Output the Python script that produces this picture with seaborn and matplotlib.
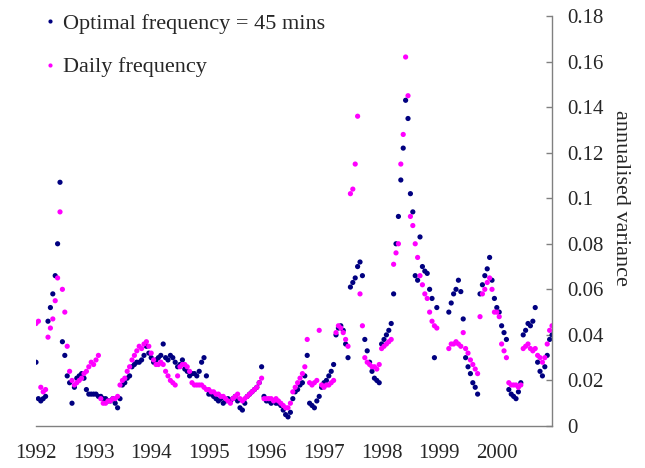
import numpy as np
import pandas as pd
import matplotlib
matplotlib.use("Agg")
import matplotlib.pyplot as plt
import seaborn as sns
from matplotlib.lines import Line2D

# ------------------------
# data (half-monthly)
# ------------------------
year_labels = [1992, 1993, 1994, 1995, 1996, 1997, 1998, 1999, 2000]
nan = np.nan

optimal_var = [
    # 1992
    0.028, 0.012, 0.011, 0.012, 0.013, 0.046, 0.052, 0.058, 0.066, 0.080, 0.107, 0.037,
    0.031, 0.022, 0.019, 0.010, 0.017, 0.021, 0.022, 0.023, 0.021, 0.016, 0.014, 0.014,
    # 1993
    0.014, 0.014, 0.013, 0.013, 0.012, 0.012, 0.011, 0.011, 0.012, 0.010, 0.008, 0.012,
    0.018, 0.019, 0.021, 0.022, 0.026, 0.027, 0.028, 0.028, 0.029, 0.031, 0.035, 0.032,
    # 1994
    0.030, 0.028, 0.029, 0.030, 0.031, 0.036, 0.030, 0.029, 0.031, 0.030, 0.028, 0.026,
    0.027, 0.029, 0.025, 0.024, 0.022, 0.023, 0.023, 0.022, 0.024, 0.028, 0.030, 0.022,
    # 1995
    0.014, 0.014, 0.013, 0.012, 0.011, 0.012, 0.010, 0.011, 0.012, 0.011, 0.012, 0.013,
    0.011, 0.008, 0.007, 0.010, 0.013, 0.014, 0.015, 0.016, 0.017, 0.019, 0.026, 0.013,
    # 1996
    0.011, 0.011, 0.010, 0.011, 0.010, 0.010, 0.009, 0.007, 0.005, 0.004, 0.006, 0.012,
    0.015, 0.016, 0.018, 0.019, 0.022, 0.031, 0.010, 0.009, 0.008, 0.011, 0.013, 0.017,
    # 1997
    0.019, 0.020, 0.022, 0.024, 0.027, 0.040, 0.043, 0.044, 0.042, 0.036, 0.030, 0.061,
    0.063, 0.065, 0.070, 0.072, 0.066, 0.038, 0.033, 0.028, 0.024, 0.021, 0.020, 0.019,
    # 1998
    0.036, 0.038, 0.040, 0.042, 0.045, 0.058, 0.080, 0.092, 0.108, 0.122, 0.143, 0.135,
    0.102, 0.094, 0.066, 0.064, 0.083, 0.070, 0.068, 0.067, 0.060, 0.056, 0.030, 0.052,
    # 1999
    nan, nan, nan, nan, 0.050, 0.054, 0.058, 0.060, 0.064, 0.059, 0.047, 0.030,
    0.026, 0.023, 0.019, 0.017, 0.014, 0.058, 0.062, 0.066, 0.069, 0.074, 0.064, 0.056,
    # 2000
    0.052, 0.050, 0.044, 0.041, 0.038, 0.016, 0.014, 0.013, 0.012, 0.015, 0.019, 0.040,
    0.042, 0.045, 0.044, 0.046, 0.052, 0.028, 0.024, 0.022, 0.026, 0.031, 0.038, 0.040,
]

daily_var = [
    # 1992
    0.045, 0.046, 0.017, 0.015, 0.016, 0.039, 0.043, 0.047, 0.055, 0.065, 0.094, 0.060,
    0.050, 0.035, 0.024, 0.020, 0.018, 0.019, 0.020, 0.021, 0.023, 0.024, 0.026, 0.028,
    # 1993
    0.027, 0.029, 0.031, 0.012, 0.010, 0.010, 0.011, 0.011, 0.012, 0.012, 0.013, 0.018,
    0.020, 0.021, 0.024, 0.026, 0.029, 0.031, 0.033, 0.035, 0.034, 0.036, 0.037, 0.035,
    # 1994
    0.032, 0.029, 0.027, 0.027, 0.028, 0.027, 0.024, 0.022, 0.020, 0.019, 0.018, 0.022,
    0.026, 0.027, 0.027, 0.026, 0.024, 0.019, 0.018, 0.018, 0.018, 0.018, 0.017, 0.016,
    # 1995
    0.016, 0.015, 0.015, 0.014, 0.014, 0.013, 0.013, 0.012, 0.011, 0.010, 0.012, 0.013,
    0.014, 0.012, 0.011, 0.012, 0.013, 0.014, 0.015, 0.016, 0.017, 0.019, 0.021, 0.012,
    # 1996
    0.012, 0.012, 0.012, 0.011, 0.012, 0.011, 0.010, 0.009, 0.008, 0.008, 0.010, 0.015,
    0.017, 0.019, 0.021, 0.023, 0.026, 0.038, 0.019, 0.018, 0.019, 0.020, 0.042, 0.018,
    # 1997
    0.017, 0.018, 0.018, 0.019, 0.020, 0.041, 0.044, 0.043, 0.041, 0.038, 0.035, 0.102,
    0.104, 0.115, 0.136, 0.058, 0.044, 0.030, 0.028, 0.027, 0.026, 0.026, 0.025, 0.027,
    # 1998
    0.034, 0.035, 0.036, 0.037, 0.038, 0.071, 0.076, 0.080, 0.115, 0.128, 0.162, 0.145,
    0.092, 0.088, 0.080, 0.074, 0.066, 0.062, 0.058, 0.056, 0.050, 0.046, 0.044, 0.043,
    # 1999
    nan, nan, nan, nan, 0.034, 0.036, 0.036, 0.037, 0.036, 0.035, 0.041, 0.034,
    0.032, 0.029, 0.027, 0.025, 0.023, 0.048, 0.058, 0.060, 0.063, 0.065, 0.060, 0.050,
    # 2000
    0.050, 0.048, 0.036, 0.033, 0.030, 0.019, 0.018, 0.018, 0.018, 0.017, 0.018, 0.034,
    0.035, 0.036, 0.034, 0.033, 0.034, 0.031, 0.030, 0.028, 0.030, 0.036, 0.042, 0.044,
]

# time axis: 24 samples per year starting Jan 1992
dates = 1992 + np.arange(len(optimal_var)) / 24.0

series_names = ["Optimal frequency = 45 mins", "Daily frequency"]
colors = {series_names[0]: "#000080", series_names[1]: "#FF00FF"}

df = pd.concat([
    pd.DataFrame({"date": dates, "var": optimal_var, "series": series_names[0]}),
    pd.DataFrame({"date": dates, "var": daily_var, "series": series_names[1]}),
]).dropna()

# ------------------------
# plot
# ------------------------
sns.set_style("white")
plt.rcParams["font.family"] = ["Liberation Serif", "DejaVu Serif"]

fig = plt.figure(figsize=(6.45, 4.68), dpi=100)
ax = fig.add_axes([36 / 645, 1 - 426 / 468, (552 - 36) / 645, (426 - 16) / 468])

sns.scatterplot(data=df, x="date", y="var", hue="series", palette=colors,
                s=14, linewidth=0, legend=False, ax=ax)

ax.set_xlim(1992, 2000.958)
ax.set_ylim(0, 0.18)

ax.set_xticks(year_labels)
ax.set_xticklabels([str(y) for y in year_labels])
yt = np.round(np.arange(0, 0.181, 0.02), 2)
ax.set_yticks(yt)
ax.set_yticklabels(["0" if v == 0 else f"{v:g}" for v in yt])

ax.yaxis.tick_right()
for side in ["top", "left"]:
    ax.spines[side].set_visible(False)
for side in ["bottom", "right"]:
    ax.spines[side].set_color("#808080")
    ax.spines[side].set_linewidth(1.0)

ax.tick_params(axis="x", direction="out", length=5, width=1, color="#808080",
               labelsize=15, pad=8)
ax.tick_params(axis="y", direction="in", length=4, width=1, color="#808080",
               labelsize=15, pad=11, right=True, left=False)

ax.set_xlabel("")
ax.set_ylabel("")
fig.text(620 / 645, 1 - 198 / 468, "annualised variance", rotation=270,
         ha="center", va="center", fontsize=16)

handles = [Line2D([], [], marker="o", linestyle="none", markersize=3,
                  markerfacecolor=colors[n], markeredgewidth=0) for n in series_names]
fig.legend(handles, series_names, loc="upper left",
           bbox_to_anchor=(43 / 645, 1 - 13 / 468), frameon=False, fontsize=16,
           handlelength=0.6, handletextpad=0.3, labelspacing=1.05,
           borderpad=0, borderaxespad=0)

fig.savefig("out.png", dpi=100, facecolor="white")
